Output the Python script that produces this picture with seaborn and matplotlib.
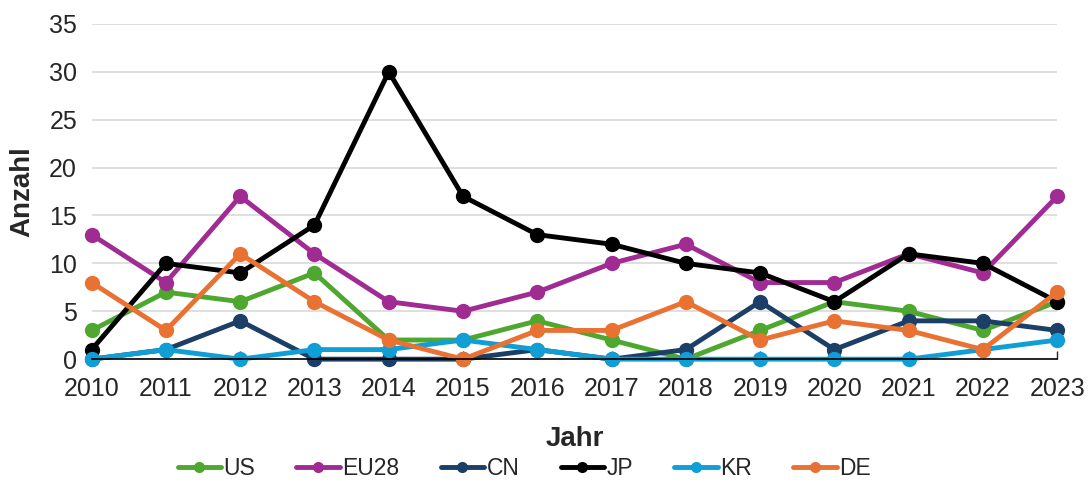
import pandas as pd
import numpy as np
from matplotlib import pyplot as plt
import seaborn as sns

years = list(range(2010, 2024))
us = [3, 7, 6, 9, 2, 2, 4, 2, 0, 3, 6, 5, 3, 6]
eu28 = [13, 8, 17, 11, 6, 5, 7, 10, 12, 8, 8, 11, 9, 17]
cn = [0, 1, 4, 0, 0, 0, 1, 0, 1, 6, 1, 4, 4, 3]
jp = [1, 10, 9, 14, 30, 17, 13, 12, 10, 9, 6, 11, 10, 6]
kr = [0, 1, 0, 1, 1, 2, 1, 0, 0, 0, 0, 0, 1, 2]
de = [8, 3, 11, 6, 2, 0, 3, 3, 6, 2, 4, 3, 1, 7]

series = {'US': us, 'EU28': eu28, 'CN': cn, 'JP': jp, 'KR': kr, 'DE': de}
palette = {'US': '#4EA72E', 'EU28': '#A02B93', 'CN': '#1B3F66',
           'JP': '#000000', 'KR': '#0F9ED5', 'DE': '#E97132'}

data = pd.concat([pd.DataFrame({'Jahr': years, 'Anzahl': v, 'Land': k}) for k, v in series.items()])

sns.set_style('white')
plt.rcParams['font.family'] = ['Liberation Sans', 'DejaVu Sans']

fig = plt.figure(figsize=(10.91, 4.88), dpi=100)
ax = fig.add_axes([0.084, 0.264, 0.885, 0.687])
sns.lineplot(data=data, x='Jahr', y='Anzahl', hue='Land', palette=palette, marker='o',
             markersize=11, markeredgewidth=0, linewidth=3.5, ax=ax, clip_on=False)

ax.set_xlim(2010, 2023)
ax.set_ylim(0, 35)
ax.set_xticks(years)
ax.set_yticks(range(0, 36, 5))
ax.yaxis.grid(True, color='#d9d9d9', linewidth=1.2)
ax.set_axisbelow(True)
for s in ['top', 'right', 'left']:
    ax.spines[s].set_visible(False)
ax.spines['bottom'].set_color('#000000')
ax.spines['bottom'].set_linewidth(1.2)
ax.tick_params(axis='x', bottom=True, length=6, width=1, direction='in', labelsize=18, pad=13)
ax.tick_params(axis='y', left=False, labelsize=18, pad=7)
ax.set_xlabel('Jahr', fontsize=20, fontweight='bold', labelpad=18)
ax.set_ylabel('Anzahl', fontsize=20, fontweight='bold', labelpad=10)

handles, labels = ax.get_legend_handles_labels()
for h in handles:
    h.set_markersize(8)
leg = ax.legend(handles, labels, loc='center', bbox_to_anchor=(0.448, -0.325), ncol=6,
                frameon=False, handlelength=1.9, columnspacing=1.8, handletextpad=0.1,
                prop={'size': 16.5})

plt.savefig('out.png', dpi=100)
